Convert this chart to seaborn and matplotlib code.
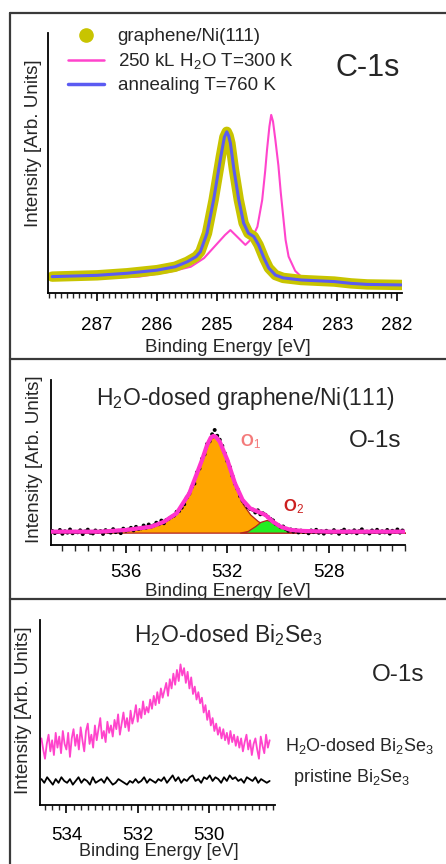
import matplotlib
matplotlib.use("Agg")
import matplotlib.pyplot as plt
import matplotlib.ticker as mticker
from matplotlib.lines import Line2D
import numpy as np
import seaborn as sns

# ---- panel 1: C-1s ----
c1s_energy = [287.75, 287.0, 286.5, 286.0, 285.7, 285.5, 285.35, 285.28, 285.17, 285.06,
              284.94, 284.88, 284.84, 284.81, 284.78, 284.72, 284.64, 284.56, 284.48, 284.39,
              284.31, 284.22, 284.14, 284.03, 283.9, 283.6, 283.05, 282.77, 282.5, 281.93]
c1s_graphene = [0.063, 0.068, 0.076, 0.088, 0.101, 0.12, 0.14, 0.159, 0.23, 0.358,
                0.524, 0.60, 0.62, 0.605, 0.576, 0.473, 0.358, 0.269, 0.23, 0.217,
                0.185, 0.134, 0.096, 0.069, 0.058, 0.05, 0.044, 0.037, 0.033, 0.031]
c1s_annealed = [0.063, 0.068, 0.076, 0.088, 0.101, 0.12, 0.14, 0.159, 0.23, 0.358,
                0.524, 0.60, 0.62, 0.605, 0.576, 0.473, 0.358, 0.269, 0.23, 0.217,
                0.185, 0.134, 0.096, 0.069, 0.058, 0.05, 0.044, 0.037, 0.033, 0.031]
c1s_water_energy = [287.75, 287.0, 286.3, 285.78, 285.44, 285.22, 285.0, 284.87, 284.78, 284.67,
                    284.53, 284.42, 284.33, 284.25, 284.2, 284.17, 284.13, 284.1, 284.07, 284.03,
                    283.98, 283.94, 283.86, 283.81, 283.7, 283.6, 283.05, 282.5, 281.93]
c1s_water = [0.056, 0.058, 0.063, 0.082, 0.101, 0.134, 0.19, 0.223, 0.242, 0.217,
             0.185, 0.21, 0.255, 0.358, 0.47, 0.55, 0.64, 0.685, 0.66, 0.588,
             0.49, 0.385, 0.204, 0.14, 0.085, 0.063, 0.047, 0.035, 0.031]

# ---- panel 2: O-1s on graphene/Ni(111) ----
o1s_fit_energy = [538.95, 537.0, 536.0, 535.0, 534.5, 534.0, 533.5, 533.2, 533.0, 532.8,
                  532.65, 532.55, 532.45, 532.3, 532.0, 531.7, 531.4, 531.1, 530.8, 530.5,
                  530.2, 529.9, 529.5, 529.0, 528.0, 525.0]
o1s_envelope = [0.081, 0.081, 0.091, 0.111, 0.141, 0.192, 0.313, 0.434, 0.515, 0.606,
                0.652, 0.661, 0.655, 0.626, 0.515, 0.374, 0.273, 0.222, 0.202, 0.182,
                0.141, 0.111, 0.091, 0.085, 0.081, 0.081]
o1s_comp1 = [0.078, 0.079, 0.088, 0.108, 0.138, 0.19, 0.31, 0.43, 0.51, 0.60,
             0.645, 0.655, 0.652, 0.62, 0.505, 0.36, 0.25, 0.185, 0.145, 0.118,
             0.10, 0.09, 0.082, 0.078, 0.076, 0.075]
o1s_comp2_energy = [531.5, 531.2, 530.9, 530.7, 530.45, 530.2, 529.9, 529.6, 529.3]
o1s_comp2 = [0.075, 0.085, 0.115, 0.14, 0.152, 0.138, 0.11, 0.085, 0.075]
o1s_background = 0.075
o1s_data = [0.085, 0.072, 0.079, 0.091, 0.068, 0.083, 0.075, 0.094, 0.071, 0.080,
            0.077, 0.089, 0.066, 0.082, 0.093, 0.074, 0.070, 0.088, 0.079, 0.084,
            0.067, 0.090, 0.081, 0.075, 0.096, 0.078, 0.086, 0.072, 0.099, 0.087,
            0.093, 0.104, 0.089, 0.110, 0.097, 0.101, 0.118, 0.105, 0.124, 0.112,
            0.119, 0.135, 0.126, 0.148, 0.132, 0.152, 0.160, 0.171, 0.178, 0.201,
            0.206, 0.226, 0.247, 0.288, 0.311, 0.352, 0.372, 0.440, 0.463, 0.522,
            0.549, 0.612, 0.628, 0.671, 0.697, 0.662, 0.638, 0.601, 0.556, 0.508,
            0.472, 0.418, 0.371, 0.339, 0.296, 0.268, 0.251, 0.229, 0.218, 0.214,
            0.197, 0.210, 0.186, 0.192, 0.183, 0.170, 0.158, 0.149, 0.128, 0.121,
            0.108, 0.112, 0.097, 0.086, 0.094, 0.081, 0.090, 0.076, 0.087, 0.079,
            0.084, 0.071, 0.088, 0.078, 0.092, 0.074, 0.083, 0.069, 0.086, 0.080,
            0.075, 0.090, 0.079, 0.068, 0.085, 0.093, 0.073, 0.082, 0.077, 0.089,
            0.071, 0.084, 0.095, 0.076, 0.081, 0.070, 0.088, 0.079, 0.092, 0.074,
            0.083, 0.077, 0.091, 0.069, 0.086, 0.080, 0.094, 0.075, 0.088]
o1s_data_energy = np.linspace(538.9, 525.1, len(o1s_data))

# ---- panel 3: O-1s on Bi2Se3 ----
bise_dosed = [0.36, 0.30, 0.25, 0.33, 0.38, 0.29, 0.35, 0.27, 0.39, 0.31,
              0.37, 0.28, 0.40, 0.33, 0.30, 0.39, 0.26, 0.36, 0.41, 0.32,
              0.38, 0.30, 0.42, 0.35, 0.29, 0.40, 0.44, 0.33, 0.38, 0.31,
              0.43, 0.35, 0.41, 0.47, 0.36, 0.40, 0.34, 0.45, 0.39, 0.43,
              0.37, 0.46, 0.41, 0.49, 0.38, 0.44, 0.50, 0.42, 0.47, 0.40,
              0.51, 0.44, 0.48, 0.54, 0.45, 0.52, 0.47, 0.56, 0.49, 0.53,
              0.50, 0.57, 0.52, 0.59, 0.54, 0.61, 0.55, 0.63, 0.58, 0.62,
              0.66, 0.59, 0.68, 0.63, 0.71, 0.65, 0.73, 0.67, 0.76, 0.70,
              0.74, 0.66, 0.72, 0.63, 0.69, 0.60, 0.64, 0.57, 0.61, 0.55,
              0.58, 0.50, 0.54, 0.46, 0.51, 0.43, 0.47, 0.40, 0.44, 0.38,
              0.42, 0.36, 0.41, 0.35, 0.39, 0.33, 0.40, 0.34, 0.38, 0.32,
              0.37, 0.31, 0.36, 0.29, 0.34, 0.38, 0.30, 0.35, 0.27, 0.33,
              0.36, 0.30, 0.25, 0.37, 0.32, 0.28, 0.38, 0.31, 0.35]
bise_pristine = [0.14, 0.12, 0.15, 0.13, 0.11, 0.14, 0.12, 0.15, 0.13, 0.12,
                 0.14, 0.11, 0.13, 0.15, 0.12, 0.14, 0.13, 0.11, 0.15, 0.12,
                 0.13, 0.14, 0.12, 0.15, 0.13, 0.11, 0.12, 0.14, 0.13, 0.12,
                 0.11, 0.13, 0.12, 0.14, 0.12, 0.13, 0.15, 0.12, 0.14, 0.13,
                 0.12, 0.14, 0.13, 0.15, 0.12, 0.14, 0.16, 0.13, 0.15, 0.12,
                 0.14, 0.13, 0.15, 0.16, 0.13, 0.14, 0.12, 0.15, 0.14, 0.16,
                 0.13, 0.15, 0.14, 0.12, 0.15, 0.13, 0.16, 0.14, 0.15, 0.13,
                 0.14, 0.12, 0.15, 0.14, 0.13, 0.15, 0.12, 0.14, 0.13, 0.12,
                 0.13]
bise_dosed_energy = np.linspace(534.7, 528.3, len(bise_dosed))
bise_pristine_energy = np.linspace(534.7, 528.3, len(bise_pristine))

OLIVE = "#c8c400"
PINK = "#ff44cc"
BLUE = "#5b5bf2"
FRAME = "#3a3a3a"

sns.set_style("ticks")
plt.rcParams["font.family"] = ["Liberation Sans", "DejaVu Sans"]
plt.rcParams["mathtext.fontset"] = "custom"
plt.rcParams["mathtext.rm"] = "Liberation Sans"
plt.rcParams["mathtext.it"] = "Liberation Sans:italic"
plt.rcParams["mathtext.bf"] = "Liberation Sans:bold"

W, H = 446, 864
fig = plt.figure(figsize=(W / 100, H / 100), dpi=100)


def fx(x):
    return x / W


def fy(y):
    return 1 - y / H


def make_axes(left, top, right, bottom):
    return fig.add_axes([fx(left), fy(bottom), (right - left) / W, (bottom - top) / H])


def style(ax, major, minor, pad, maj_len=6, min_len=3.5):
    sns.despine(ax=ax)
    ax.set_facecolor("none")
    for s in ["left", "bottom"]:
        ax.spines[s].set_linewidth(1.3)
        ax.spines[s].set_color("black")
    ax.set_yticks([])
    ax.xaxis.set_major_locator(mticker.MultipleLocator(major))
    ax.xaxis.set_minor_locator(mticker.MultipleLocator(minor))
    ax.xaxis.set_major_formatter(mticker.FormatStrFormatter("%d"))
    ax.tick_params(axis="x", which="major", direction="out", length=maj_len, width=1.2,
                   pad=pad, labelsize=13.5, colors="black")
    ax.tick_params(axis="x", which="minor", direction="out", length=min_len, width=1.0)


# panel frames
for y in [13, 359, 599]:
    fig.add_artist(Line2D([fx(10), fx(446)], [fy(y), fy(y)], color=FRAME, lw=1.6))
fig.add_artist(Line2D([fx(10), fx(10)], [fy(13), fy(864)], color=FRAME, lw=1.6))

# ---------- panel 1 ----------
ax1 = make_axes(48, 33, 402, 293)
sns.lineplot(x=c1s_water_energy, y=c1s_water, ax=ax1, color=PINK, lw=1.5)
sns.lineplot(x=c1s_energy, y=c1s_graphene, ax=ax1, color=OLIVE, lw=7.5,
             solid_capstyle="round", solid_joinstyle="round")
sns.lineplot(x=c1s_energy, y=c1s_annealed, ax=ax1, color=BLUE, lw=2.2)
ax1.set_xlim(287.82, 281.92)
ax1.set_ylim(0, 1)
style(ax1, 1, 0.1, pad=11, maj_len=6, min_len=3.5)
ax1.set_xlabel("Binding Energy [eV]", fontsize=13.5)
ax1.set_ylabel("Intensity [Arb. Units]", fontsize=13.5)
ax1.xaxis.set_label_coords(0.508, -0.175)
ax1.yaxis.set_label_coords(-0.017, 0.577)
handles = [
    Line2D([], [], color=OLIVE, marker="o", markersize=9.5, lw=0),
    Line2D([], [], color=PINK, lw=1.8),
    Line2D([], [], color=BLUE, lw=2.5),
]
labels = ["graphene/Ni(111)", "250 kL H$_2$O T=300 K", "annealing T=760 K"]
fig.legend(handles, labels, loc="upper left", bbox_to_anchor=(fx(68), fy(28)),
           frameon=False, fontsize=13.5, borderpad=0, borderaxespad=0,
           handlelength=1.9, handletextpad=0.75, labelspacing=0.32)
fig.text(fx(368), fy(68), "C-1s", fontsize=22, ha="center", va="center")

# ---------- panel 2 ----------
ax2 = make_axes(51, 380, 405, 545)
ax2.fill_between(o1s_fit_energy, o1s_background, o1s_comp1, color="#ffa500",
                 edgecolor="#b22222", lw=0.9, zorder=1)
ax2.fill_between(o1s_comp2_energy, o1s_background, o1s_comp2, color="#22ee22",
                 edgecolor="#b22222", lw=0.9, zorder=1.5)
sns.scatterplot(x=o1s_data_energy, y=o1s_data, ax=ax2, color="black", s=8,
                edgecolor="none", zorder=2)
sns.lineplot(x=o1s_fit_energy, y=o1s_envelope, ax=ax2, color="#ff33cc", lw=3, zorder=3)
ax2.set_xlim(538.95, 525.0)
ax2.set_ylim(0, 1)
style(ax2, 4, 0.5, pad=8, maj_len=6, min_len=4)
ax2.set_xlabel("Binding Energy [eV]", fontsize=13.5)
ax2.set_ylabel("Intensity [Arb. Units]", fontsize=13.5)
ax2.xaxis.set_label_coords(0.5, -0.23)
ax2.yaxis.set_label_coords(-0.023, 0.52)
fig.text(fx(245), fy(398), "H$_2$O-dosed graphene/Ni(111)", fontsize=16.5,
         ha="center", va="center")
fig.text(fx(375), fy(441), "O-1s", fontsize=17.5, ha="center", va="center")
fig.text(fx(250), fy(442), "O$_1$", fontsize=12, color="#f47a7a",
         fontweight="bold", ha="center", va="center")
fig.text(fx(294), fy(507), "O$_2$", fontsize=12, color="#cc1f1f",
         fontweight="bold", ha="center", va="center")

# ---------- panel 3 ----------
ax3 = make_axes(40, 620, 275, 805)
sns.lineplot(x=bise_dosed_energy, y=bise_dosed, ax=ax3, color=PINK, lw=1.3)
sns.lineplot(x=bise_pristine_energy, y=bise_pristine, ax=ax3, color="black", lw=1.3)
ax3.set_xlim(534.74, 528.15)
ax3.set_ylim(0, 1)
style(ax3, 2, 0.2, pad=10, maj_len=6, min_len=3.5)
ax3.set_xlabel("Binding Energy [eV]", fontsize=13)
ax3.set_ylabel("Intensity [Arb. Units]", fontsize=13.5)
ax3.xaxis.set_label_coords(0.506, -0.205)
ax3.yaxis.set_label_coords(-0.034, 0.514)
fig.text(fx(228), fy(635), "H$_2$O-dosed Bi$_2$Se$_3$", fontsize=16.5,
         ha="center", va="center")
fig.text(fx(398), fy(675), "O-1s", fontsize=17.5, ha="center", va="center")
fig.text(fx(285), fy(746), "H$_2$O-dosed Bi$_2$Se$_3$", fontsize=13,
         ha="left", va="center")
fig.text(fx(293), fy(778), "pristine Bi$_2$Se$_3$", fontsize=13,
         ha="left", va="center")

fig.savefig("out.png", dpi=100)
